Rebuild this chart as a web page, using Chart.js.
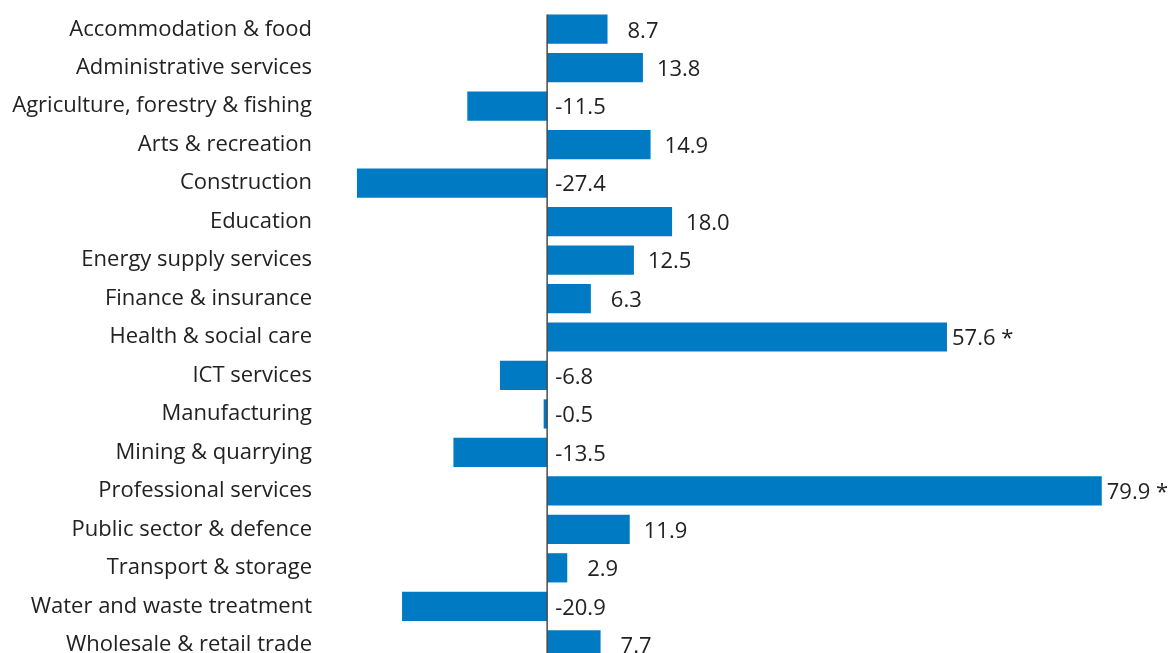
<!DOCTYPE html>
<html>
<head>
<meta charset="utf-8">
<script src="https://cdn.jsdelivr.net/npm/chart.js@4"></script>
<style>
  html, body { margin: 0; padding: 0; background: #fff; overflow: hidden; }
  #wrap { width: 1171px; height: 664px; position: relative; }
</style>
</head>
<body>
<div id="wrap"><canvas id="sectorChart"></canvas></div>
<script>
const sectors = [
  'Accommodation & food', 'Administrative services', 'Agriculture, forestry & fishing',
  'Arts & recreation', 'Construction', 'Education', 'Energy supply services',
  'Finance & insurance', 'Health & social care', 'ICT services', 'Manufacturing',
  'Mining & quarrying', 'Professional services', 'Public sector & defence',
  'Transport & storage', 'Water and waste treatment', 'Wholesale & retail trade'
];
const changeValues = [8.7, 13.8, -11.5, 14.9, -27.4, 18.0, 12.5, 6.3, 57.6, -6.8, -0.5, -13.5, 79.9, 11.9, 2.9, -20.9, 7.7];
const flagged = [false, false, false, false, false, false, false, false, true, false, false, false, true, false, false, false, false];

const barColor = '#007ac2';
const textColor = '#222222';
const fontFamily = '"Open Sans", "Noto Sans", sans-serif';
const fontSize = 22;

// zero line + value labels next to each bar
const valueLabels = {
  id: 'valueLabels',
  afterDatasetsDraw(chart) {
    const ctx = chart.ctx;
    const meta = chart.getDatasetMeta(0);
    const x0 = chart.scales.x.getPixelForValue(0);
    const first = meta.data[0];
    ctx.save();
    ctx.strokeStyle = '#4a4a4a';
    ctx.lineWidth = 1.5;
    ctx.beginPath();
    ctx.moveTo(x0, first.y - first.height / 2);
    ctx.lineTo(x0, chart.chartArea.bottom);
    ctx.stroke();

    ctx.font = fontSize + 'px ' + fontFamily;
    ctx.fillStyle = textColor;
    ctx.textBaseline = 'middle';
    ctx.textAlign = 'left';
    meta.data.forEach((bar, i) => {
      const v = changeValues[i];
      const txt = v.toFixed(1) + (flagged[i] ? ' *' : '');
      let x;
      if (v < 0) {
        x = bar.base + 8;
      } else if (flagged[i]) {
        x = bar.x + 5;
      } else if (Math.abs(v) >= 10) {
        x = bar.x + 14;
      } else {
        x = bar.x + 20;
      }
      ctx.fillText(txt, x, bar.y + 2);
    });
    ctx.restore();
  }
};

const chart = new Chart(document.getElementById('sectorChart').getContext('2d'), {
  type: 'bar',
  data: {
    labels: sectors,
    datasets: [{
      data: changeValues,
      backgroundColor: barColor,
      borderWidth: 0,
      barPercentage: 0.76,
      categoryPercentage: 1.0
    }]
  },
  options: {
    indexAxis: 'y',
    responsive: true,
    maintainAspectRatio: false,
    animation: false,
    layout: { padding: { top: 10, right: 13, left: 0, bottom: 0 } },
    plugins: {
      legend: { display: false },
      tooltip: { enabled: false }
    },
    scales: {
      x: {
        min: -32,
        max: 88,
        border: { display: false },
        ticks: { display: false },
        grid: { display: false, drawTicks: false },
        afterFit: s => { s.height = 0; s.paddingLeft = 0; s.paddingRight = 0; }
      },
      y: {
        border: { display: false },
        grid: { display: false, drawTicks: false },
        ticks: {
          padding: 13,
          color: textColor,
          font: { family: fontFamily, size: fontSize }
        },
        afterFit: s => { s.width = 325; s.paddingTop = 0; s.paddingBottom = 0; }
      }
    }
  },
  plugins: [valueLabels]
});
</script>
</body>
</html>
